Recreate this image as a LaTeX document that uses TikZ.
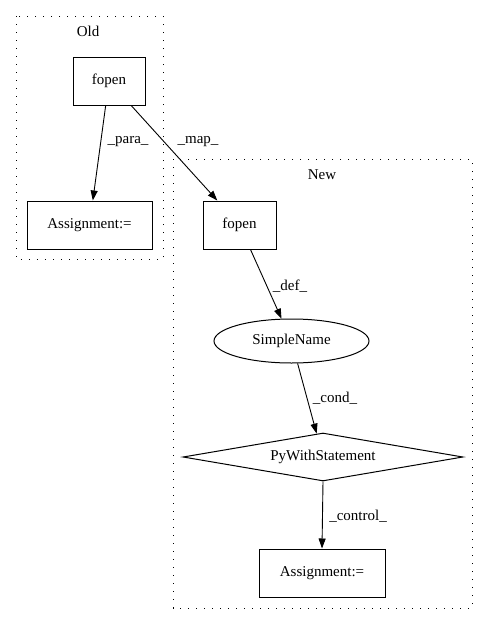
\documentclass[tikz,border=0pt]{standalone}
\usepackage{fontspec}
\setmainfont{Liberation Serif}
\usetikzlibrary{arrows.meta,shapes.geometric}
\begin{document}
\begin{tikzpicture}[x=1pt,y=-1pt,
  every node/.style={font=\fontsize{15pt}{17pt}\selectfont},
  box/.style={draw,line width=1pt,rectangle,inner sep=0pt},
  cluster/.style={draw,line width=1pt,dash pattern=on 1.3pt off 6.7pt},
  edge/.style={draw,line width=0.9pt,-{Triangle[length=10pt,width=7pt]}},
  elabel/.style={inner sep=0pt}]
\useasboundingbox (0,0) rectangle (488,624);
% clusters
\draw[cluster] (16,16) rectangle (163,259);
\node (oldlbl) at (88,31) {Old};
\draw[cluster] (173,159) rectangle (472,608);
\node (newlbl) at (322,175) {New};
% nodes
\node[box,minimum width=72pt,minimum height=48pt] (fo) at (109,81) {fopen};
\node[box,minimum width=125pt,minimum height=48pt] (ao) at (89.5,225) {Assignment:=};
\node[box,minimum width=73pt,minimum height=48pt] (fn) at (239.5,225) {fopen};
\node[draw,line width=1pt,ellipse,inner sep=0pt,minimum width=155pt,minimum height=44pt] (sn) at (291.5,341) {SimpleName};
\node[draw,line width=1pt,diamond,aspect=6,inner sep=0pt,minimum width=280pt,minimum height=48pt] (pw) at (323,457) {PyWithStatement};
\node[box,minimum width=126pt,minimum height=48pt] (an) at (322,573) {Assignment:=};
% edges
\draw[edge] (fo) -- (ao);
\draw[edge] (fo) -- (fn);
\draw[edge] (fn) -- (sn);
\draw[edge] (sn) -- (pw);
\draw[edge] (pw.south) -- (an.north);
% edge labels
\node[elabel] (lpara) at (128,142) {\_para\_};
\node[elabel] (lmap) at (198,142) {\_map\_};
\node[elabel] (ldef) at (290,286) {\_def\_};
\node[elabel] (lcond) at (335,398) {\_cond\_};
\node[elabel] (lcontrol) at (358,516) {\_control\_};
\end{tikzpicture}
\end{document}
